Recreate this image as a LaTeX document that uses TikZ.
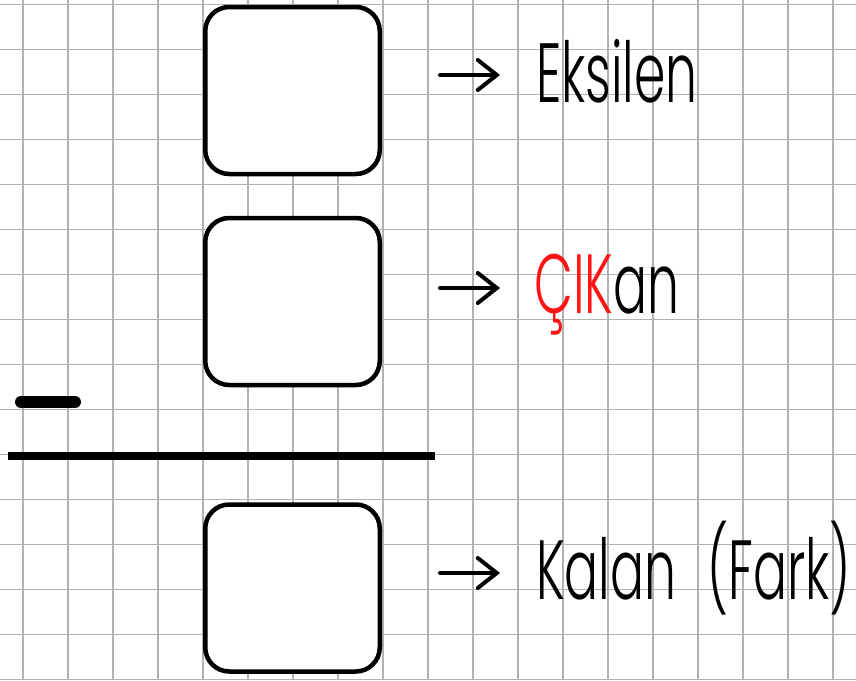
\documentclass[tikz,border=0pt]{standalone}
\usepackage{fontspec}
\usetikzlibrary{arrows.meta}
\newfontfamily\lblfont{Poppins Light}
\definecolor{gridgrey}{RGB}{178,178,178}
\definecolor{hotred}{RGB}{255,20,20}
\begin{document}
\begin{tikzpicture}[x=1pt,y=-1pt,
  gridline/.style={draw=gridgrey, line width=1.5pt},
  numbox/.style={draw=black, line width=4.5pt, rounded corners=24pt, fill=white,
    minimum width=174.5pt, minimum height=167pt, inner sep=0pt},
  lbl/.style={anchor=base west, inner sep=0pt, font=\lblfont\fontsize{84pt}{90pt}\selectfont},
  pointer/.style={line width=4pt, line cap=round,
    -{Straight Barb[length=19pt, width=30pt, line width=4pt, line cap=round]}},
  rule/.style={line width=8pt}]
\useasboundingbox (0,0) rectangle (856,680);
\fill[white] (0,0) rectangle (856,680);
\foreach \i in {0,...,18} \draw[gridline] ({22.8+45*\i},0) -- ({22.8+45*\i},680);
\foreach \j in {0,...,15} \draw[gridline] (0,{4.3+45*\j}) -- (856,{4.3+45*\j});
% boxes
\node[numbox] (b1) at (292.5,90.5) {};
\node[numbox] (b2) at (292.5,301.5) {};
\node[numbox] (b3) at (292.5,588) {};
% labels
\node[lbl] (t1) at (536,102) {\scalebox{0.6}[1]{Eksilen}};
\node[lbl] (t2) at (534,313) {\scalebox{0.6}[1]{\textcolor{hotred}{ÇIK}an}};
\node[lbl] (t3) at (536,599) {\scalebox{0.6}[1]{Kalan\hspace{0.62em}(Fark)}};
% arrows
\coordinate (p1s) at (440,75);  \coordinate (p1e) at (500,75);
\coordinate (p2s) at (440,288); \coordinate (p2e) at (500,288);
\coordinate (p3s) at (440,573); \coordinate (p3e) at (500,573);
\draw[pointer] (p1s) -- (p1e);
\draw[pointer] (p2s) -- (p2e);
\draw[pointer] (p3s) -- (p3e);
% minus sign and rule
\draw[line width=12pt, line cap=round] (21,402) -- (75,402);
\draw[rule] (8,456) -- (435,456);
\end{tikzpicture}
\end{document}
